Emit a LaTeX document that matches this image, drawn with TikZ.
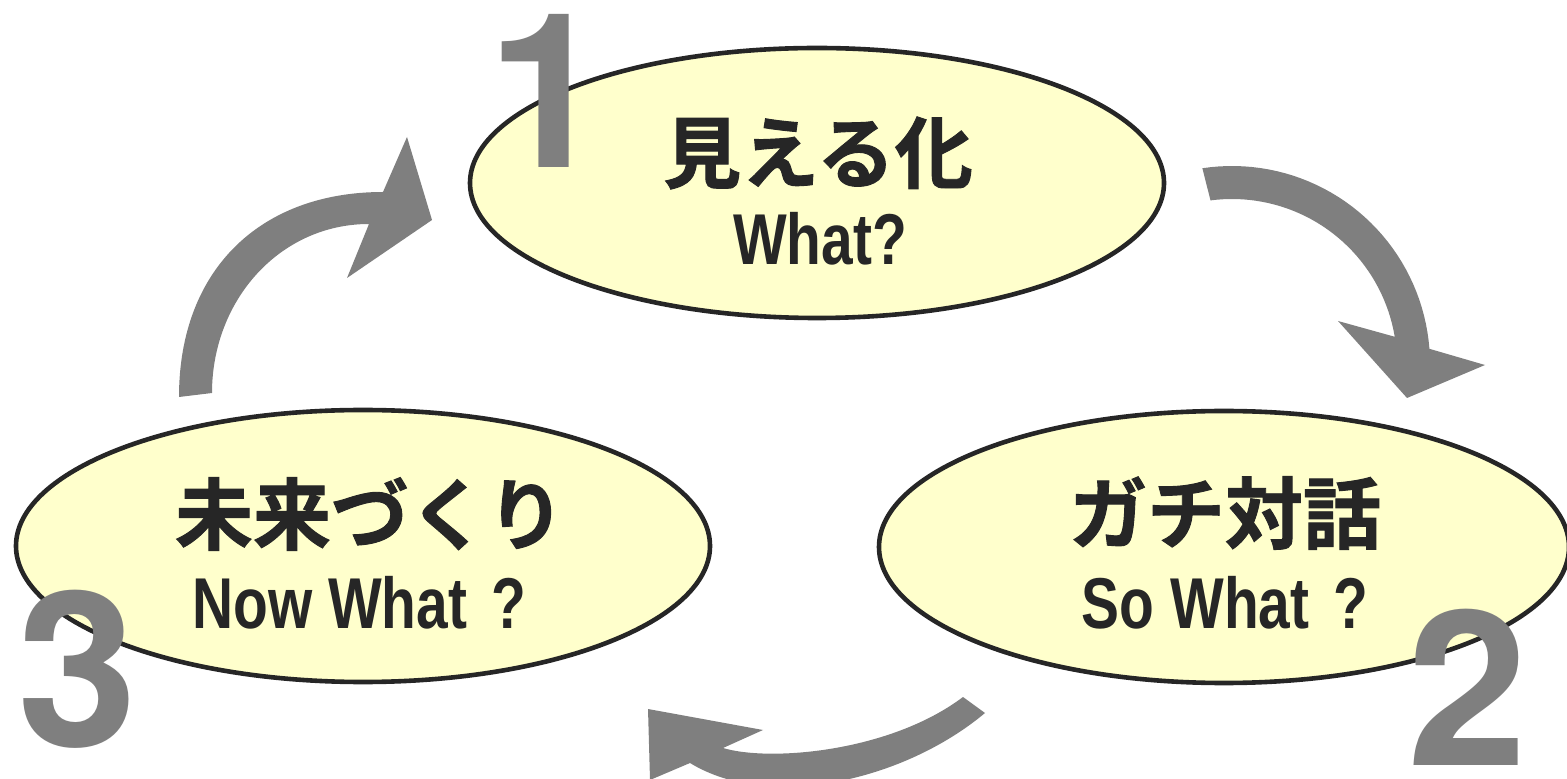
\documentclass[tikz,border=0pt]{standalone}
\usepackage{fontspec}
\usetikzlibrary{shapes.geometric}
\newfontfamily\cjkfont{Noto Sans CJK JP Bold}[FakeBold=1.2]
\newfontfamily\latfont{Liberation Sans}[FakeStretch=0.79]
\newfontfamily\numfont{TeX Gyre Heros}
\definecolor{ellfill}{HTML}{FFFFCC}
\definecolor{inkc}{HTML}{262626}
\definecolor{arrowgray}{HTML}{7F7F7F}
\begin{document}
\begin{tikzpicture}[x=0.5pt,y=-0.5pt,
  ell/.style={ellipse, draw=inkc, line width=2.3pt, fill=ellfill, inner sep=0pt},
  jp/.style={inner sep=0pt, text=inkc, font=\cjkfont\fontsize{39pt}{40pt}\selectfont},
  en/.style={inner sep=0pt, anchor=base, text=inkc, font=\latfont\bfseries\fontsize{36pt}{38pt}\selectfont},
  num/.style={inner sep=0pt, anchor=base, text=arrowgray, font=\numfont\bfseries\fontsize{108pt}{110pt}\selectfont},
  arr/.style={fill=arrowgray, draw=none}]
\useasboundingbox (0,0) rectangle (1567,779);
\clip (0,0) rectangle (1567,779);

% arrows
\fill[arr] plot[domain=-98.6:-4.4, samples=40] ({1232+198*cos(\x)},{364+198*sin(\x)})
  -- (1485,365) -- (1407,398) -- (1338,321)
  -- plot[domain=-9.5:-97.5, samples=40] ({1232+165*cos(\x)},{364+165*sin(\x)}) -- cycle;
\fill[arr] (963,697) .. controls (890,752) and (770,762) .. (723,748)
  -- (763,730) -- (648,709) -- (650,780) -- (690,763)
  .. controls (770,812) and (905,780) .. (985,713) -- cycle;
\fill[arr] (179,397) .. controls (179,270) and (260,192) .. (383,192)
  -- (407,137) -- (432,220) -- (347,278) -- (369,224)
  .. controls (280,224) and (212,300) .. (212,393) -- cycle;

% ellipses
\node[ell, minimum width=347pt, minimum height=135pt] (e1) at (817,183) {};
\node[ell, minimum width=345pt, minimum height=136pt] (e2) at (1224,547) {};
\node[ell, minimum width=347pt, minimum height=136pt] (e3) at (363,546) {};

% texts
\node[jp] (j1) at (818,153) {見える化};
\node[en] (w1) at (820,265) {What?};
\node[jp] (j2) at (1225,513) {ガチ対話};
\node[en] (w2) at (1225,628) {So What\hspace{12pt}?};
\node[jp] (j3) at (370,514) {未来づくり};
\node[en] (w3) at (359,628) {Now What\hspace{12pt}?};

% numbers
\node[num] (n1) at (548,168) {1};
\node[num] (n2) at (1468,765) {2};
\node[num] (n3) at (78,746) {3};
\end{tikzpicture}
\end{document}
